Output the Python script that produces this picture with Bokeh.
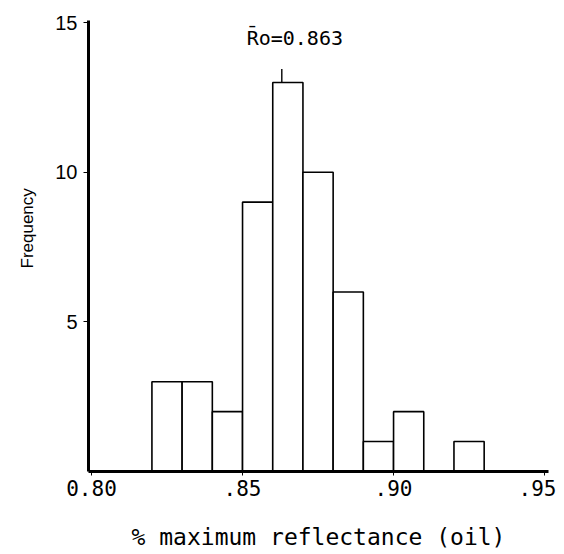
from bokeh.plotting import figure
from bokeh.models import FixedTicker, Label, Range1d, Title
from bokeh.embed import file_html
from bokeh.resources import INLINE

# Data
bin_left = [0.82, 0.83, 0.84, 0.85, 0.86, 0.87, 0.88, 0.89, 0.90, 0.91, 0.92]
bin_right = [0.83, 0.84, 0.85, 0.86, 0.87, 0.88, 0.89, 0.90, 0.91, 0.92, 0.93]
counts = [3, 3, 2, 9, 13, 10, 6, 1, 2, 0, 1]
mean_ro = 0.863
x_ticks = [0.80, 0.85, 0.90, 0.95]
x_tick_labels = ["0.80", ".85", ".90", ".95"]
y_ticks = [5, 10, 15]

MONO = "DejaVu Sans Mono"
SANS = "Liberation Sans"

p = figure(width=556, height=553, output_backend="svg", toolbar_location=None,
           x_range=Range1d(0.799, 0.9513), y_range=Range1d(0, 15.07),
           min_border_left=88, min_border_right=8, min_border_top=20, min_border_bottom=82)
p.outline_line_color = None
p.xgrid.visible = False
p.ygrid.visible = False
p.background_fill_color = "white"

# bars (skip empty bins)
nz = [i for i, c in enumerate(counts) if c > 0]
p.quad(left=[bin_left[i] for i in nz], right=[bin_right[i] for i in nz],
       bottom=0, top=[counts[i] for i in nz],
       fill_color="white", line_color="black", line_width=1.6)

# mean marker above tallest bar
top = max(counts)
p.segment(x0=[mean_ro], y0=[top], x1=[mean_ro], y1=[top + 0.45], line_color="black", line_width=1.4)
p.add_layout(Label(x=mean_ro, y=top + 1.5, x_offset=13, text="R\u0304o=0.863",
                   text_font=MONO, text_font_size="20px", text_align="center",
                   text_baseline="middle", text_color="black"))

# x axis
xa = p.xaxis[0]
xa.ticker = FixedTicker(ticks=x_ticks)
xa.major_label_overrides = {t: l for t, l in zip(x_ticks, x_tick_labels)}
xa.axis_line_width = 3
xa.major_tick_in = 0
xa.major_tick_out = 4
xa.minor_tick_out = 0
xa.minor_tick_in = 0
xa.major_label_text_font = MONO
xa.major_label_text_font_size = "21px"
xa.major_label_text_color = "black"
xa.major_label_standoff = 4
xa.axis_label = "% maximum reflectance (oil)"
xa.axis_label_text_font = MONO
xa.axis_label_text_font_size = "23px"
xa.axis_label_text_color = "black"
xa.axis_label_text_font_style = "normal"
xa.axis_label_standoff = 25

# y axis
ya = p.yaxis[0]
ya.ticker = FixedTicker(ticks=y_ticks)
ya.axis_line_width = 3
ya.major_tick_in = 0
ya.major_tick_out = 5
ya.minor_tick_out = 0
ya.minor_tick_in = 0
ya.major_label_text_font = SANS
ya.major_label_text_font_size = "20px"
ya.major_label_text_color = "black"
ya.major_label_standoff = 6

# y axis title, slightly above the frame centre as in the reference
p.add_layout(Title(text="Frequency", align="left", offset=203, standoff=31,
                   text_font=SANS, text_font_size="17px", text_font_style="normal",
                   text_color="black"), "left")

open("out.html", "w").write(file_html(p, INLINE))
